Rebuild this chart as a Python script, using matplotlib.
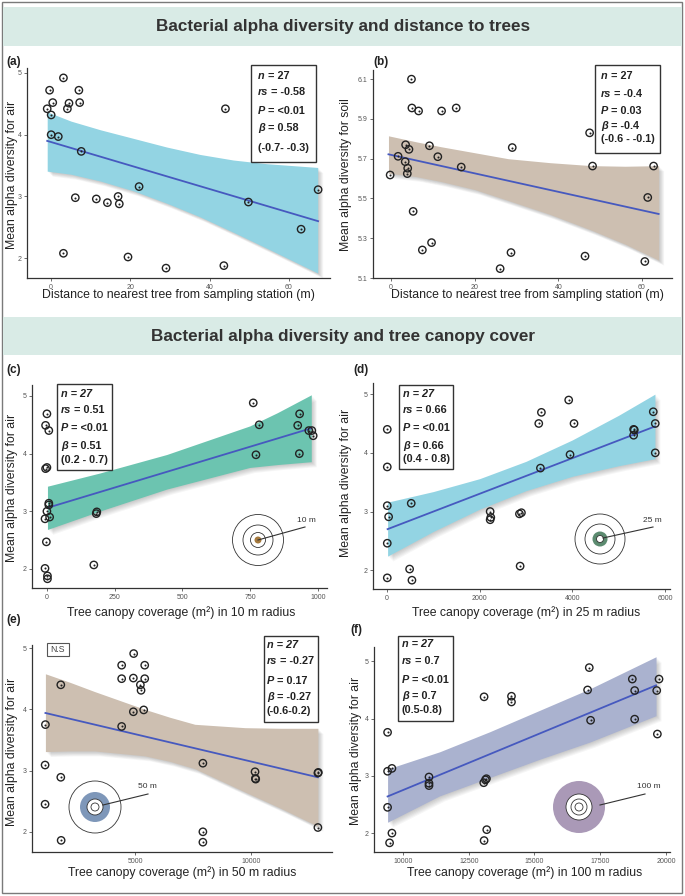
import numpy as np
import matplotlib.pyplot as plt
import matplotlib.transforms as mtransforms
from matplotlib.patches import Rectangle, Circle

plt.rcParams['font.family'] = ['Liberation Sans', 'DejaVu Sans']

# ---- data ----
# (a) distance vs air diversity
a_x = [3.1, -0.4, 7.0, 0.4, 4.5, 7.2, -1.0, 4.1, 0.0, 44.0, 0.0, 1.8, 7.6, 22.2, 6.1,
       11.4, 14.2, 16.9, 17.2, 67.4, 49.8, 63.1, 3.1, 19.4, 29.0, 43.6]
a_y = [4.92, 4.72, 4.72, 4.52, 4.51, 4.52, 4.42, 4.42, 4.32, 4.42, 4.0, 3.97, 3.73, 3.16, 2.98,
       2.96, 2.90, 3.0, 2.88, 3.11, 2.91, 2.47, 2.08, 2.02, 1.84, 1.88]
a_fit_x = [-1, 67.4]
a_fit_y = [3.9, 2.6]
a_band_x = [-1, 5, 12.4, 20.8, 29.2, 37.6, 46, 54.5, 67.3]
a_band_hi = [4.37, 4.22, 4.08, 3.94, 3.80, 3.68, 3.59, 3.53, 3.47]
a_band_lo = [3.41, 3.36, 3.25, 3.09, 2.89, 2.67, 2.42, 2.16, 1.76]

# (b) distance vs soil diversity
b_x = [4.9, 5.0, 6.6, 12.1, 15.6, 47.5, 3.5, 9.2, 4.3, 29.0, 1.7, 11.2, 3.4, 4.0, 3.9, -0.2,
       16.8, 48.2, 62.8, 61.4, 5.3, 9.7, 7.5, 28.7, 46.4, 60.7, 26.1]
b_y = [6.10, 5.955, 5.94, 5.94, 5.955, 5.83, 5.77, 5.765, 5.747, 5.756, 5.712, 5.71, 5.685,
       5.652, 5.625, 5.618, 5.658, 5.663, 5.663, 5.505, 5.435, 5.278, 5.241, 5.228, 5.21, 5.183, 5.147]
b_fit_x = [-0.6, 64]
b_fit_y = [5.722, 5.422]
b_band_x = [-0.6, 6, 12, 20, 28, 38, 48, 56, 64]
b_band_hi = [5.815, 5.785, 5.76, 5.73, 5.70, 5.68, 5.665, 5.662, 5.665]
b_band_lo = [5.627, 5.61, 5.585, 5.545, 5.49, 5.42, 5.34, 5.27, 5.19]

# (c) canopy 10 m
c_x = [0, -5, 7, -5, 0, 7, 7, 0, -7, 10, 182, 184, -2, -7, 2, 2, 173, 761, 783, 771, 932,
       925, 966, 977, 982, 931]
c_y = [4.69, 4.49, 4.40, 3.74, 3.76, 3.14, 3.11, 3.0, 2.87, 2.90, 2.96, 2.99, 2.47, 2.01, 1.88,
       1.83, 2.07, 4.88, 4.50, 3.98, 4.69, 4.49, 4.40, 4.40, 4.31, 4.0]
c_fit_x = [2, 975]
c_fit_y = [3.06, 4.44]
c_band_x = [2, 196, 442, 748, 850, 975]
c_band_hi = [3.435, 3.665, 3.985, 4.48, 4.71, 5.02]
c_band_lo = [2.685, 3.005, 3.385, 3.76, 3.81, 3.86]

# (d) canopy 25 m
d_x = [7, 7, 7, 36, 7, 7, 489, 539, 524, 2227, 2241, 2227, 2859, 2902, 2874, 3312, 3276, 3333,
       3922, 4037, 3951, 5323, 5338, 5323, 5747, 5790, 5790]
d_y = [4.40, 3.76, 3.10, 2.91, 2.46, 1.87, 2.02, 1.83, 3.14, 3.0, 2.90, 2.86, 2.96, 2.98, 2.07,
       3.74, 4.50, 4.69, 4.90, 4.50, 3.97, 4.40, 4.39, 4.30, 4.70, 4.50, 4.0]
d_fit_x = [14, 5783]
d_fit_y = [2.70, 4.45]
d_band_x = [14, 1000, 2000, 3000, 4000, 5000, 5783]
d_band_hi = [3.16, 3.34, 3.56, 3.855, 4.22, 4.64, 5.0]
d_band_lo = [2.24, 2.66, 3.04, 3.355, 3.60, 3.78, 3.90]

# (e) canopy 50 m
e_x = [4942, 4424, 5418, 4424, 4928, 5418, 5231, 5260, 1801, 5375, 4928, 1138, 4424, 1124,
       1801, 1124, 1816, 7925, 10173, 10187, 10202, 12882, 12900, 12882, 7925, 7925]
e_y = [4.91, 4.72, 4.72, 4.50, 4.51, 4.50, 4.40, 4.31, 4.40, 3.99, 3.96, 3.75, 3.72, 3.09,
       2.89, 2.45, 1.86, 3.12, 2.98, 2.87, 2.86, 2.96, 2.97, 2.07, 2.0, 1.83]
e_fit_x = [1138, 12882]
e_fit_y = [3.94, 2.89]
e_band_x = [1138, 2200, 3256, 5418, 6500, 7579, 9741, 11300, 12882]
e_band_hi = [4.58, 4.44, 4.29, 4.0, 3.87, 3.755, 3.70, 3.69, 3.69]
e_band_lo = [3.31, 3.32, 3.32, 3.24, 3.15, 3.03, 2.65, 2.38, 2.09]

# (f) canopy 100 m
f_x = [9416, 9416, 9581, 9416, 9581, 9492, 10990, 10990, 10990, 13084, 13071, 13173, 13185,
       13084, 14125, 14125, 17082, 17018, 17132, 18718, 18807, 18807, 19733, 19645, 19670, 13135]
f_y = [3.76, 3.08, 3.13, 2.45, 2.0, 1.83, 2.98, 2.87, 2.83, 4.38, 2.88, 2.95, 2.06, 1.87,
       4.39, 4.29, 4.89, 4.50, 3.97, 4.69, 4.49, 3.99, 4.69, 4.49, 3.73, 2.93]
f_fit_x = [9416, 19620]
f_fit_y = [2.64, 4.58]
f_band_x = [9416, 11396, 13299, 15203, 17107, 19620]
f_band_hi = [3.12, 3.42, 3.77, 4.145, 4.52, 5.08]
f_band_lo = [2.19, 2.65, 2.97, 3.29, 3.59, 4.05]

# stats boxes: (n, rs, P, beta, CI)
stats_a = ['27', '-0.58', '<0.01', '0.58', '(-0.7- -0.3)']
stats_b = ['27', '-0.4', '0.03', '-0.4', '(-0.6 - -0.1)']
stats_c = ['27', '0.51', '<0.01', '0.51', '(0.2 - 0.7)']
stats_d = ['27', '0.66', '<0.01', '0.66', '(0.4 - 0.8)']
stats_e = ['27', '-0.27', '0.17', '-0.27', '(-0.6-0.2)']
stats_f = ['27', '0.7', '<0.01', '0.7', '(0.5-0.8)']

header1 = 'Bacterial alpha diversity and distance to trees'
header2 = 'Bacterial alpha diversity and tree canopy cover'
xlab_dist = 'Distance to nearest tree from sampling station (m)'

W, H = 685, 896
fig = plt.figure(figsize=(W / 100, H / 100), dpi=100)
LINE = '#4659bf'
INK = '#222222'


def px_axes(l, t, r, b):
    return fig.add_axes([l / W, 1 - b / H, (r - l) / W, (b - t) / H])


def panel(rect, x, y, fx, fy, bx, blo, bhi, color, xlim, ylim, xticks, yticks, yfmt='{:g}'):
    ax = px_axes(*rect)
    for k in range(1, 7):
        off = mtransforms.ScaledTranslation(k * 0.6 / 72, -k * 0.6 / 72, fig.dpi_scale_trans)
        ax.fill_between(bx, blo, bhi, color='black', alpha=0.035, lw=0,
                        transform=ax.transData + off, zorder=1)
    ax.fill_between(bx, blo, bhi, color=color, lw=0, zorder=2)
    ax.plot(fx, fy, color=LINE, lw=1.3, zorder=3)
    ax.scatter(x, y, s=28, facecolor='none', edgecolor=INK, lw=1.0, zorder=4)
    ax.scatter(x, y, s=2.2, color=INK, lw=0, zorder=5)
    ax.set_xlim(*xlim)
    ax.set_ylim(*ylim)
    ax.set_xticks(xticks)
    ax.set_yticks(yticks)
    ax.set_yticklabels([yfmt.format(v) for v in yticks])
    for s in ['top', 'right']:
        ax.spines[s].set_visible(False)
    for s in ['left', 'bottom']:
        ax.spines[s].set_color('#333333')
        ax.spines[s].set_linewidth(0.9)
    ax.tick_params(labelsize=5, colors='#555555', length=2, width=0.6, pad=2)
    ax.patch.set_alpha(0)
    return ax


panel((27, 68, 330, 278), a_x, a_y, a_fit_x, a_fit_y, a_band_x, a_band_lo, a_band_hi,
      '#93d4e3', (-6.1, 70.4), (1.68, 5.08), [0, 20, 40, 60], [2, 3, 4, 5])
panel((373, 70, 672, 278), b_x, b_y, b_fit_x, b_fit_y, b_band_x, b_band_lo, b_band_hi,
      '#cdbfb1', (-4.3, 67.2), (5.1, 6.146), [0, 20, 40, 60], [5.1, 5.3, 5.5, 5.7, 5.9, 6.1])
panel((32, 385, 327, 588), c_x, c_y, c_fit_x, c_fit_y, c_band_x, c_band_lo, c_band_hi,
      '#6cc4b0', (-55, 1033), (1.67, 5.19), [0, 250, 500, 750, 1000], [2, 3, 4, 5])
panel((373, 383, 670, 589), d_x, d_y, d_fit_x, d_fit_y, d_band_x, d_band_lo, d_band_hi,
      '#93d4e3', (-301, 6108), (1.68, 5.19), [0, 2000, 4000, 6000], [2, 3, 4, 5])
panel((32, 645, 332, 852), e_x, e_y, e_fit_x, e_fit_y, e_band_x, e_band_lo, e_band_hi,
      '#cdbfb1', (560, 13490), (1.67, 5.05), [5000, 10000], [2, 3, 4, 5])
panel((374, 647, 670, 852), f_x, f_y, f_fit_x, f_fit_y, f_band_x, f_band_lo, f_band_hi,
      '#aab2cf', (8900, 20150), (1.67, 5.25), [10000, 12500, 15000, 17500, 20000], [2, 3, 4, 5])

# ---- overlay in pixel coordinates for headers, labels, boxes and icons ----
ov = fig.add_axes([0, 0, 1, 1])
ov.set_xlim(0, W)
ov.set_ylim(H, 0)
ov.axis('off')

ov.add_patch(Rectangle((2.5, 2.5), W - 5, H - 5, fill=False, ec='#7a7a7a', lw=1))
for top, bot, txt in [(7, 46, header1), (317, 355, header2)]:
    ov.add_patch(Rectangle((3, top), W - 6, bot - top, fc='#d9ebe6', ec='none'))
    ov.text(343, (top + bot) / 2 + 0.5, txt, ha='center', va='center', fontsize=12.3,
            fontweight='bold', color='#333333')

for lab, x, y in [('(a)', 6, 62), ('(b)', 373, 62), ('(c)', 6, 370), ('(d)', 353, 370),
                  ('(e)', 6, 620), ('(f)', 350, 630)]:
    ov.text(x, y, lab, fontsize=8.5, fontweight='bold', color=INK, ha='left', va='center')

ylabs = [('Mean alpha diversity for air', 12, 175), ('Mean alpha diversity for soil', 346, 175),
         ('Mean alpha diversity for air', 12, 488), ('Mean alpha diversity for air', 346, 483),
         ('Mean alpha diversity for air', 12, 752), ('Mean alpha diversity for air', 356, 751)]
for txt, x, y in ylabs:
    ov.text(x, y, txt, rotation=90, ha='center', va='center', fontsize=8.8, color=INK)

xlabs = [(xlab_dist, 178, 295), (xlab_dist, 527, 295),
         ('Tree canopy coverage (m²) in 10 m radius', 181, 613),
         ('Tree canopy coverage (m²) in 25 m radius', 526, 613),
         ('Tree canopy coverage (m²) in 50 m radius', 182, 873),
         ('Tree canopy coverage (m²) in 100 m radius', 525, 873)]
for txt, x, y in xlabs:
    ov.text(x, y, txt, ha='center', va='center', fontsize=8.8, color=INK)


def stat_box(box, x0, ys, vals, n_italic):
    l, t, r, b = box
    ov.add_patch(Rectangle((l, t), r - l, b - t, fill=False, ec='#333333', lw=1))
    heads = ['n', 'rs', 'P', 'β']
    for i, (hd, v) in enumerate(zip(heads, vals[:4])):
        if i == 0 and n_italic:
            ov.text(x0, ys[i], 'n = ' + v, fontsize=7.8, fontweight='bold', fontstyle='italic',
                    color=INK, va='center', ha='left')
            continue
        t1 = ov.text(x0, ys[i], hd, fontsize=7.8, fontweight='bold', fontstyle='italic',
                     color=INK, va='center', ha='left')
        ov.annotate(' = ' + v, xy=(1, 0), xycoords=t1, fontsize=7.8, fontweight='bold',
                    color=INK, va='bottom', ha='left')
    ov.text(x0, ys[4], vals[4], fontsize=7.8, fontweight='bold', color=INK, va='center', ha='left')


stat_box((251, 65, 316, 162), 258, [76, 92, 111, 128, 148], stats_a, False)
stat_box((595, 65, 660, 153), 601, [76, 94, 111, 126, 139], stats_b, False)
stat_box((57, 384, 112, 470), 61, [394, 410, 428, 446, 460], stats_c, True)
stat_box((399, 385, 453, 469), 403, [394, 410, 428, 446, 459], stats_d, True)
stat_box((264, 636, 318, 722), 267, [645, 661, 681, 697, 711], stats_e, True)
stat_box((398, 636, 453, 721), 402, [644, 661, 680, 696, 710], stats_f, True)

ov.add_patch(Rectangle((47, 643), 22, 13, fill=False, ec='#555555', lw=0.8))
ov.text(58, 649.8, 'N.S', ha='center', va='center', fontsize=6.3, color='#444444')


def ring(cx, cy, r, **kw):
    ov.add_patch(Circle((cx, cy), r, **kw))


# 10 m icon
for r in [25.5, 15, 7.5]:
    ring(258, 540, r, fill=False, ec='#333333', lw=0.6)
ring(258, 540, 3.5, fc='#a57a3e', ec='none')
ov.plot([258, 305], [540, 527], color='#333333', lw=0.8)
ov.text(306, 520, '10 m', ha='center', va='center', fontsize=6, color='#333333')

# 25 m icon
for r in [25, 15]:
    ring(600, 539, r, fill=False, ec='#333333', lw=0.6)
ring(600, 539, 7.5, fc='#5c8b70', ec='none')
ring(600, 539, 3.5, fc='white', ec='#333333', lw=0.6)
ov.plot([603, 653], [538, 527], color='#333333', lw=0.8)
ov.text(652, 520, '25 m', ha='center', va='center', fontsize=6, color='#333333')

# 50 m icon
ring(95, 807, 26, fill=False, ec='#333333', lw=0.6)
ring(95, 807, 15, fc='#7e97b9', ec='none')
ring(95, 807, 8, fc='white', ec='#333333', lw=0.6)
ring(95, 807, 4, fill=False, ec='#333333', lw=0.6)
ov.plot([103, 148], [805, 794], color='#333333', lw=0.8)
ov.text(147, 787, '50 m', ha='center', va='center', fontsize=6, color='#333333')

# 100 m icon
ring(579, 807, 26, fc='#aa99b7', ec='none')
ring(579, 807, 13, fc='white', ec='#333333', lw=0.6)
ring(579, 807, 8, fill=False, ec='#333333', lw=0.6)
ring(579, 807, 4, fill=False, ec='#333333', lw=0.6)
ov.plot([600, 645], [805, 794], color='#333333', lw=0.8)
ov.text(649, 787, '100 m', ha='center', va='center', fontsize=6, color='#333333')

fig.savefig('out.png', dpi=100)
